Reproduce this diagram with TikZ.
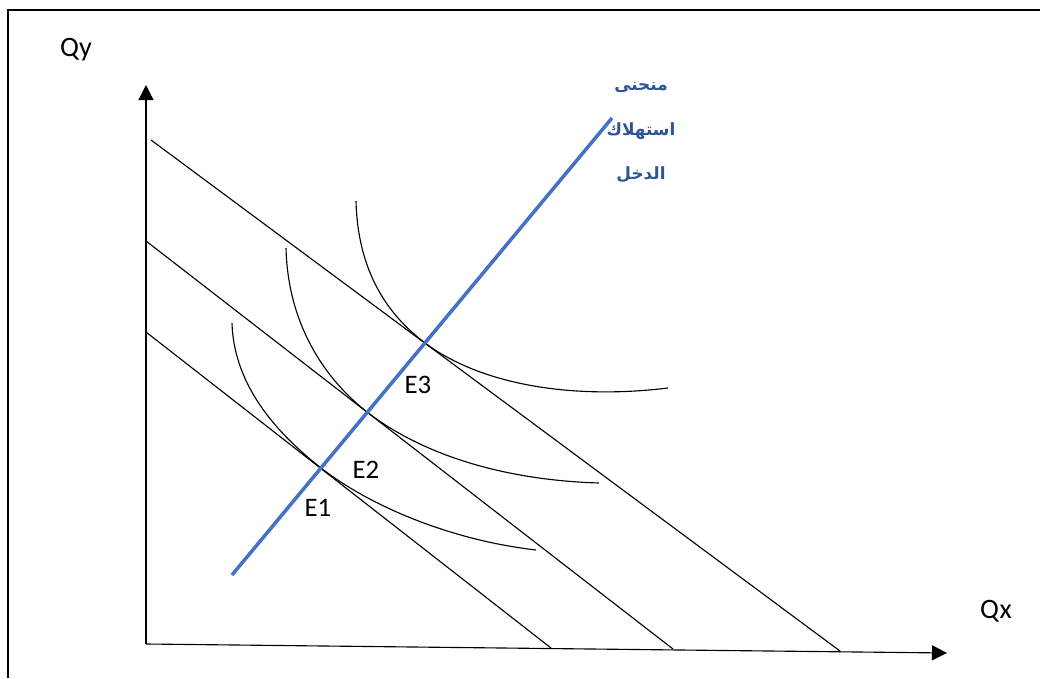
\documentclass[tikz,border=0pt]{standalone}
\usepackage{fontspec}
\setmainfont{Carlito}
\newfontfamily\arabicfont[Script=Arabic]{DejaVu Sans}
\TeXXeTstate=1
\usetikzlibrary{arrows.meta, positioning, calc}
\definecolor{iccblue}{RGB}{68, 114, 196}
\definecolor{labelblue}{RGB}{47, 84, 150}

\begin{document}
\begin{tikzpicture}[x=0.025cm, y=-0.025cm, >={Triangle[length=3.75mm,width=3.75mm]},
  budget/.style={line width=0.8pt},
  indiff/.style={line width=0.8pt},
  axislabel/.style={font=\fontsize{20}{24}\selectfont},
  eqlabel/.style={font=\fontsize{19}{23}\selectfont},
  arlabel/.style={labelblue, font=\arabicfont\bfseries\fontsize{12}{14}\selectfont}]
  \useasboundingbox (0,0) rectangle (1040,678);
  \draw[line width=1.4pt] (8,678) -- (8,10) -- (1040,10);

  % axes
  \coordinate (O) at (146,644);
  \coordinate (ytop) at (146,85);
  \coordinate (xend) at (947,653);
  \draw[->, line width=0.8pt] (O) -- (ytop);
  \draw[->, line width=0.8pt] (O) -- (xend);
  \node[axislabel] (qy) at (76,50) {Qy};
  \node[axislabel] (qx) at (996,611) {Qx};

  % budget lines
  \draw[budget] (146,332) -- (551,648);
  \draw[budget] (146,241) -- (673,649);
  \draw[budget] (151,140) -- (840,651);

  % indifference curves
  \coordinate (E1) at (321,468);
  \coordinate (E2) at (367,412);
  \coordinate (E3) at (425,343);
  \draw[indiff] (232,323) .. controls (234,390) and (283,438) .. (E1)
    .. controls (370,506) and (450,540) .. (536,550);
  \draw[indiff] (286,248) .. controls (288,330) and (330,383) .. (E2)
    .. controls (420,453) and (500,480) .. (599,483);
  \draw[indiff] (356,201) .. controls (358,280) and (395,320) .. (E3)
    .. controls (480,384) and (570,400) .. (668,388);

  % income consumption curve
  \coordinate (icc0) at (232,575);
  \coordinate (icc1) at (612,118);
  \draw[iccblue, line width=2.5pt] (icc0) -- (icc1);

  \node[eqlabel] (e1) at (318,508) {E1};
  \node[eqlabel] (e2) at (366,470) {E2};
  \node[eqlabel] (e3) at (418,385) {E3};

  \node[arlabel] (icclabel) at (641,88) {\beginR منحنى\endR};
  \node[arlabel] (icclabel2) at (641,131) {\beginR استهلاك\endR};
  \node[arlabel] (icclabel3) at (641,175) {\beginR الدخل\endR};
\end{tikzpicture}
\end{document}
